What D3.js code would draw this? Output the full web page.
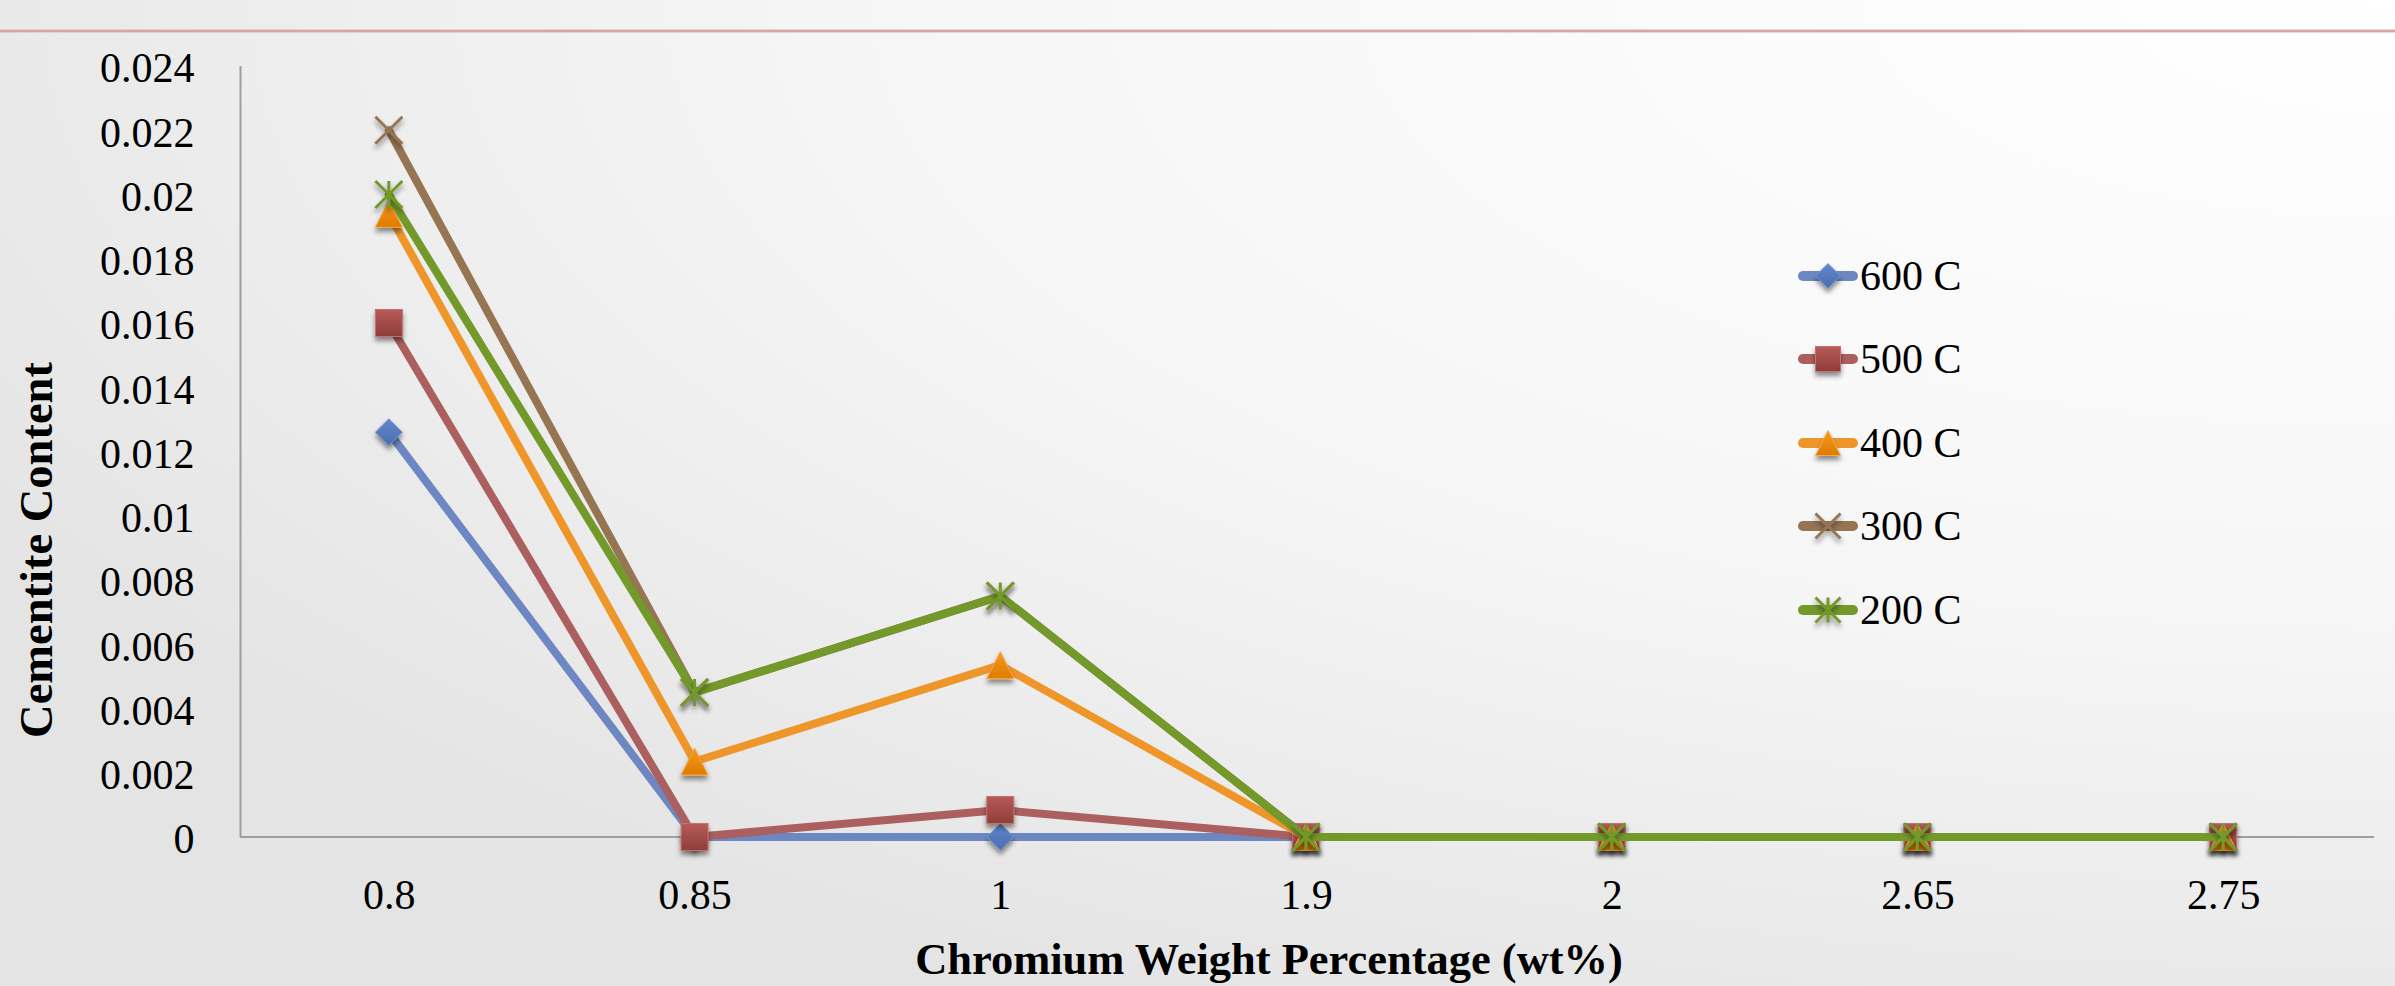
<!DOCTYPE html>
<html>
<head>
<meta charset="utf-8">
<script src="https://cdn.jsdelivr.net/npm/d3@7"></script>
<style>
  html, body { margin: 0; padding: 0; background: #ffffff; }
  svg { display: block; }
</style>
</head>
<body>
<svg id="chart" width="2395" height="986"></svg>
<script>
// ---------- DATA ----------
const categories = ["0.8", "0.85", "1", "1.9", "2", "2.65", "2.75"];
const seriesNames = ["600 C", "500 C", "400 C", "300 C", "200 C"];
const values600 = [0.0126, 0, 0, 0, 0, 0, 0];
const values500 = [0.0160, 0, 0.00084, 0, 0, 0, 0];
const values400 = [0.0194, 0.00235, 0.00535, 0, 0, 0, 0];
const values300 = [0.0220, 0.0045, 0.0075, 0, 0, 0, 0];
const values200 = [0.0200, 0.0045, 0.0075, 0, 0, 0, 0];
const yTickValues = [0, 0.002, 0.004, 0.006, 0.008, 0.01, 0.012, 0.014, 0.016, 0.018, 0.02, 0.022, 0.024];
const yTickLabels = ["0", "0.002", "0.004", "0.006", "0.008", "0.01", "0.012", "0.014", "0.016", "0.018", "0.02", "0.022", "0.024"];
const xTitle = "Chromium Weight Percentage (wt%)";
const yTitle = "Cementite Content";

// ---------- STYLE ----------
const lineColors = ["#6c87c1", "#ab5f5e", "#ef962a", "#957552", "#72992a"];
const markerTop = ["#6188cc", "#b65b58", "#f59a1a", "#957552", "#72992a"];
const markerBottom = ["#4a6dad", "#8f3d3b", "#de7c00", "#957552", "#72992a"];
const markerTypes = ["diamond", "square", "triangle", "x", "star"];
const allSeries = [values600, values500, values400, values300, values200];

const svg = d3.select("#chart");
const W = 2395, H = 986;
const defs = svg.append("defs");

// background gradient
const bg = defs.append("radialGradient").attr("id", "bg")
  .attr("cx", "100%").attr("cy", "0%").attr("r", "115%")
  .attr("gradientUnits", "objectBoundingBox");
bg.append("stop").attr("offset", "0%").attr("stop-color", "#ffffff");
bg.append("stop").attr("offset", "55%").attr("stop-color", "#f6f6f6");
bg.append("stop").attr("offset", "100%").attr("stop-color", "#e4e4e4");
svg.append("rect").attr("width", W).attr("height", H).attr("fill", "url(#bg)");

// top rule
svg.append("line").attr("x1", 0).attr("x2", W).attr("y1", 31).attr("y2", 31)
  .attr("stroke", "#dcb3b3").attr("stroke-width", 3);
svg.append("line").attr("x1", 0).attr("x2", W).attr("y1", 31).attr("y2", 31)
  .attr("stroke", "#c99c9c").attr("stroke-width", 1);

// shadow filter
const f = defs.append("filter").attr("id", "shadow")
  .attr("x", "-50%").attr("y", "-50%").attr("width", "200%").attr("height", "220%");
f.append("feDropShadow").attr("dx", 0).attr("dy", 4).attr("stdDeviation", 2.5)
  .attr("flood-color", "#000").attr("flood-opacity", 0.45);

// marker gradients
markerTypes.forEach((t, i) => {
  const g = defs.append("linearGradient").attr("id", "mg" + i)
    .attr("x1", 0).attr("y1", 0).attr("x2", 0).attr("y2", 1);
  g.append("stop").attr("offset", "0%").attr("stop-color", markerTop[i]);
  g.append("stop").attr("offset", "100%").attr("stop-color", markerBottom[i]);
});

// ---------- SCALES ----------
const x = d3.scalePoint().domain(categories).range([236, 2376]).padding(0.5);
const y = d3.scaleLinear().domain([0, 0.024]).range([837, 66]);

const serif = "'Liberation Serif', 'Times New Roman', serif";

// axes lines
const xAxis = d3.axisBottom(x).tickSize(0).tickPadding(0).tickFormat(d => d);
const gx = svg.append("g").attr("transform", "translate(0,837)").call(xAxis);
gx.select(".domain").attr("d", "M240,0H2374").attr("stroke", "#9e9e9e").attr("stroke-width", 2);
gx.selectAll(".tick text").attr("y", 59).attr("dy", "0.32em")
  .attr("font-family", serif).attr("font-size", 42).attr("fill", "#000");

const yAxis = d3.axisLeft(y).tickValues(yTickValues).tickSize(0).tickPadding(0)
  .tickFormat((d, i) => yTickLabels[i]);
const gy = svg.append("g").attr("transform", "translate(240.5,0)").call(yAxis);
gy.select(".domain").attr("d", "M0,66V837").attr("stroke", "#9e9e9e").attr("stroke-width", 2);
gy.selectAll(".tick text").attr("x", -46).attr("dy", "0.38em")
  .attr("font-family", serif).attr("font-size", 42).attr("fill", "#000");

// titles
function fitText(sel, target) {
  const len = sel.node().getComputedTextLength();
  const fs = parseFloat(sel.attr("font-size"));
  sel.attr("font-size", fs * target / len);
}
const xt = svg.append("text").attr("x", 1269).attr("y", 974).attr("text-anchor", "middle")
  .attr("font-family", serif).attr("font-weight", "bold").attr("font-size", 42)
  .attr("fill", "#000").text(xTitle);
fitText(xt, 708);
const yt = svg.append("text").attr("transform", "translate(52,550) rotate(-90)")
  .attr("text-anchor", "middle")
  .attr("font-family", serif).attr("font-weight", "bold").attr("font-size", 42)
  .attr("fill", "#000").text(yTitle);
fitText(yt, 376);

// ---------- MARKERS ----------
function drawMarker(g, type, i, cx, cy, s) {
  const h = s / 2;
  if (type === "diamond") {
    g.append("path").attr("d", `M${cx},${cy - h}L${cx + h},${cy}L${cx},${cy + h}L${cx - h},${cy}Z`)
      .attr("fill", `url(#mg${i})`).attr("stroke", "#7b97cf").attr("stroke-width", 1)
      .attr("filter", "url(#shadow)");
  } else if (type === "square") {
    g.append("rect").attr("x", cx - h).attr("y", cy - h).attr("width", s).attr("height", s)
      .attr("fill", `url(#mg${i})`).attr("stroke", "#c07472").attr("stroke-width", 1)
      .attr("filter", "url(#shadow)");
  } else if (type === "triangle") {
    g.append("path").attr("d", `M${cx},${cy - h}L${cx + h},${cy + h}L${cx - h},${cy + h}Z`)
      .attr("fill", `url(#mg${i})`).attr("stroke", "#f6a84a").attr("stroke-width", 1)
      .attr("filter", "url(#shadow)");
  } else if (type === "x") {
    g.append("path").attr("d", `M${cx - h},${cy - h}L${cx + h},${cy + h}M${cx + h},${cy - h}L${cx - h},${cy + h}`)
      .attr("stroke", lineColors[i]).attr("stroke-width", 3).attr("fill", "none")
      .attr("filter", "url(#shadow)");
  } else if (type === "star") {
    g.append("path").attr("d", `M${cx - h},${cy - h}L${cx + h},${cy + h}M${cx + h},${cy - h}L${cx - h},${cy + h}M${cx},${cy - h}L${cx},${cy + h}`)
      .attr("stroke", lineColors[i]).attr("stroke-width", 3).attr("fill", "none")
      .attr("filter", "url(#shadow)");
  }
}

// ---------- SERIES ----------
const line = d3.line().x((d, j) => x(categories[j])).y(d => y(d));
allSeries.forEach((vals, i) => {
  const g = svg.append("g");
  g.append("path").attr("d", line(vals)).attr("fill", "none")
    .attr("stroke", lineColors[i]).attr("stroke-width", 8)
    .attr("stroke-linejoin", "round").attr("stroke-linecap", "round");
  vals.forEach((v, j) => drawMarker(g, markerTypes[i], i, x(categories[j]), y(v), 27));
});

// ---------- LEGEND ----------
const legendY = [276, 359, 443, 526, 610];
seriesNames.forEach((name, i) => {
  const g = svg.append("g");
  const ly = legendY[i];
  g.append("line").attr("x1", 1803).attr("x2", 1853).attr("y1", ly).attr("y2", ly)
    .attr("stroke", lineColors[i]).attr("stroke-width", 10).attr("stroke-linecap", "round");
  drawMarker(g, markerTypes[i], i, 1828, ly, 25);
  g.append("text").attr("x", 1860).attr("y", ly).attr("dy", "0.34em")
    .attr("font-family", serif).attr("font-size", 42).attr("fill", "#000").text(name);
});
</script>
</body>
</html>
